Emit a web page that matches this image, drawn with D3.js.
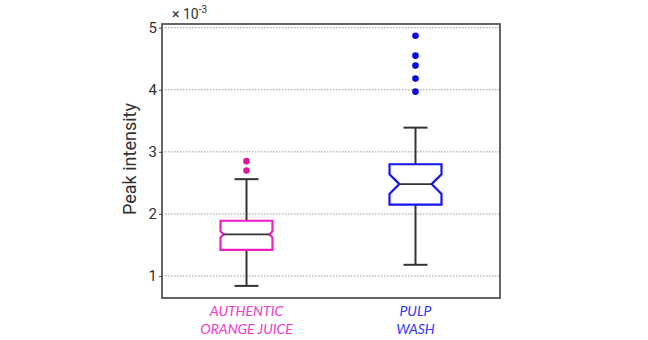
<!DOCTYPE html>
<html>
<head>
<meta charset="utf-8">
<script src="https://cdn.jsdelivr.net/npm/d3@7"></script>
<style>
  body { margin: 0; background: #fff; }
  svg { display: block; }
</style>
</head>
<body>
<div id="chart"></div>
<script>
// values in units of 1e-3
const groups = ["AUTHENTIC|ORANGE JUICE", "PULP|WASH"]
const q1 = [1.42, 2.15]
const medians = [1.67, 2.48]
const q3 = [1.89, 2.80]
const notchLo = [1.62, 2.32]
const notchHi = [1.72, 2.64]
const whiskLo = [0.84, 1.18]
const whiskHi = [2.56, 3.39]
const outliers = [[2.85, 2.70], [4.87, 4.55, 4.39, 4.18, 3.97]]
const yTicks = [1, 2, 3, 4, 5]

const boxColors = ["#ee1ec4", "#1414f5"]
const dotColors = ["#d91aa0", "#0a0ae0"]
const labelColors = ["#f03acb", "#3535ff"]

const width = 648, height = 340
const margin = {top: 24, right: 148, bottom: 42, left: 162}

const svg = d3.select("#chart").append("svg")
  .attr("width", width)
  .attr("height", height)

const x = d3.scalePoint()
  .domain(groups)
  .range([margin.left, width - margin.right])
  .padding(0.5)

const y = d3.scaleLinear()
  .domain([0.645, 5.06])
  .range([height - margin.bottom, margin.top])

// grid
svg.append("g")
  .selectAll("line")
  .data(yTicks)
  .enter()
  .append("line")
  .attr("x1", margin.left)
  .attr("x2", width - margin.right)
  .attr("y1", d => y(d))
  .attr("y2", d => y(d))
  .attr("stroke", "#9a9a9a")
  .attr("stroke-width", 1)
  .attr("stroke-dasharray", "1.5,1.5")

// y axis
const yAxis = d3.axisLeft(y).tickValues(yTicks).tickSize(3).tickFormat(d3.format("d"))
const ga = svg.append("g")
  .attr("transform", "translate(" + margin.left + ",0)")
  .call(yAxis)
ga.select(".domain").remove()
ga.selectAll(".tick line").attr("stroke", "#444")
ga.selectAll(".tick text")
  .attr("font-family", "Roboto, 'Liberation Sans', sans-serif")
  .attr("font-size", 15)
  .attr("fill", "#333")
  .attr("x", -5)

// frame
svg.append("rect")
  .attr("x", margin.left)
  .attr("y", margin.top)
  .attr("width", width - margin.left - margin.right)
  .attr("height", height - margin.top - margin.bottom)
  .attr("fill", "none")
  .attr("stroke", "#555")
  .attr("stroke-width", 1.8)

// exponent label
const ex = svg.append("text")
  .attr("x", margin.left + 10)
  .attr("y", margin.top - 5)
  .attr("font-family", "Roboto, 'Liberation Sans', sans-serif")
  .attr("font-size", 14)
  .attr("fill", "#333")
ex.append("tspan").text("\u00d7 10")
ex.append("tspan").attr("dy", -6).attr("font-size", 10).text("-3")

// y label
svg.append("text")
  .attr("transform", "translate(136," + ((margin.top + height - margin.bottom) / 2 - 2) + ") rotate(-90)")
  .attr("text-anchor", "middle")
  .attr("font-family", "Roboto, 'Liberation Sans', sans-serif")
  .attr("font-size", 18)
  .attr("fill", "#333")
  .text("Peak intensity")

const boxW = 52, capW = 24

groups.forEach((g, i) => {
  const cx = x(g)
  const gg = svg.append("g")

  // whiskers
  gg.append("line")
    .attr("x1", cx).attr("x2", cx)
    .attr("y1", y(q3[i])).attr("y2", y(whiskHi[i]))
    .attr("stroke", "#333").attr("stroke-width", 2)
  gg.append("line")
    .attr("x1", cx).attr("x2", cx)
    .attr("y1", y(q1[i])).attr("y2", y(whiskLo[i]))
    .attr("stroke", "#333").attr("stroke-width", 2)
  ;[whiskHi[i], whiskLo[i]].forEach(v => {
    gg.append("line")
      .attr("x1", cx - capW / 2).attr("x2", cx + capW / 2)
      .attr("y1", y(v)).attr("y2", y(v))
      .attr("stroke", "#333").attr("stroke-width", 2)
  })

  // notched box
  const l = cx - boxW / 2, r = cx + boxW / 2
  const depth = Math.min(y(notchLo[i]) - y(medians[i]), 12)
  const pts = [
    [l, y(q3[i])], [r, y(q3[i])], [r, y(notchHi[i])], [r - depth, y(medians[i])],
    [r, y(notchLo[i])], [r, y(q1[i])], [l, y(q1[i])], [l, y(notchLo[i])],
    [l + depth, y(medians[i])], [l, y(notchHi[i])]
  ]
  gg.append("path")
    .attr("d", d3.line()(pts) + "Z")
    .attr("fill", "none")
    .attr("stroke", boxColors[i])
    .attr("stroke-width", 2.2)
    .attr("stroke-linejoin", "miter")

  gg.append("line")
    .attr("x1", l + depth).attr("x2", r - depth)
    .attr("y1", y(medians[i])).attr("y2", y(medians[i]))
    .attr("stroke", "#333").attr("stroke-width", 1.8)

  // outliers
  gg.selectAll("circle")
    .data(outliers[i])
    .enter()
    .append("circle")
    .attr("cx", cx)
    .attr("cy", d => y(d))
    .attr("r", 3.3)
    .attr("fill", dotColors[i])

  // category label
  const lines = g.split("|")
  const t = gg.append("text")
    .attr("text-anchor", "middle")
    .attr("font-family", "Lato, 'Open Sans', sans-serif")
    .attr("font-style", "italic")
    .attr("font-size", 14)
    .attr("fill", labelColors[i])
  lines.forEach((s, k) => {
    t.append("tspan")
      .attr("x", cx)
      .attr("y", height - margin.bottom + 18 + k * 18)
      .text(s)
  })
})
</script>
</body>
</html>
